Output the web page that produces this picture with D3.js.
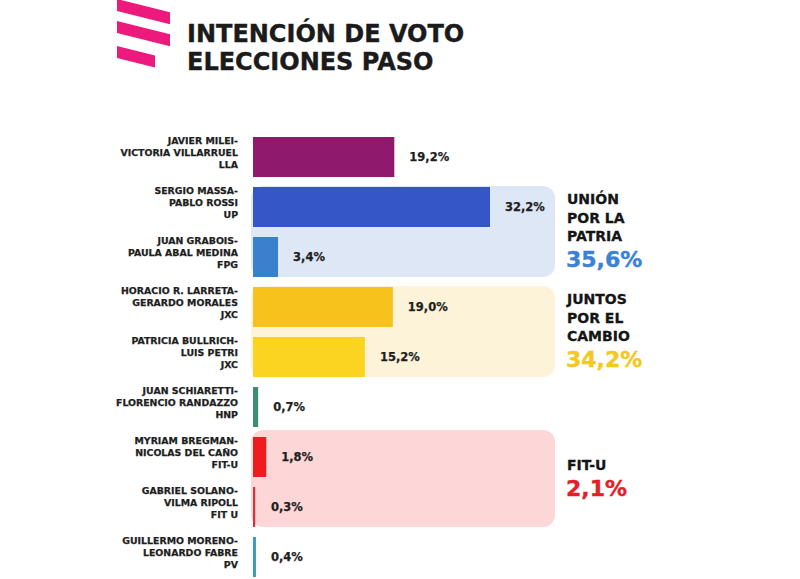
<!DOCTYPE html>
<html>
<head>
<meta charset="utf-8">
<script src="https://cdn.jsdelivr.net/npm/d3@7/dist/d3.min.js"></script>
<style>
  html, body { margin: 0; padding: 0; background: #ffffff; }
  svg { display: block; }
  text { font-family: "DejaVu Sans", sans-serif; font-weight: bold; }
</style>
</head>
<body>
<svg id="chart" width="800" height="579"></svg>
<script>
// ---- Data ----
const titleLines = ["INTENCIÓN DE VOTO", "ELECCIONES PASO"];
const candidateLines = [
  ["JAVIER MILEI-", "VICTORIA VILLARRUEL", "LLA"],
  ["SERGIO MASSA-", "PABLO ROSSI", "UP"],
  ["JUAN GRABOIS-", "PAULA ABAL MEDINA", "FPG"],
  ["HORACIO R. LARRETA-", "GERARDO MORALES", "JXC"],
  ["PATRICIA BULLRICH-", "LUIS PETRI", "JXC"],
  ["JUAN SCHIARETTI-", "FLORENCIO RANDAZZO", "HNP"],
  ["MYRIAM BREGMAN-", "NICOLAS DEL CAÑO", "FIT-U"],
  ["GABRIEL SOLANO-", "VILMA RIPOLL", "FIT U"],
  ["GUILLERMO MORENO-", "LEONARDO FABRE", "PV"]
];
const values = [19.2, 32.2, 3.4, 19.0, 15.2, 0.7, 1.8, 0.3, 0.4];
const valueLabels = ["19,2%", "32,2%", "3,4%", "19,0%", "15,2%", "0,7%", "1,8%", "0,3%", "0,4%"];
const barColors = ["#8f1a6d", "#3456c6", "#3a80cd", "#f6c21b", "#fbd422", "#3d8e6e", "#ee1b1f", "#d8313b", "#3a9bb6"];

const groupNames = [["UNIÓN", "POR LA", "PATRIA"], ["JUNTOS", "POR EL", "CAMBIO"], ["FIT-U"]];
const groupTotals = ["35,6%", "34,2%", "2,1%"];
const groupFirst = [1, 3, 6];
const groupLast = [2, 4, 7];
const groupBoxColors = ["#dee7f5", "#fdf3d9", "#fdd6d7"];
const groupTextColors = ["#3b82d4", "#f3c81f", "#e61e28"];

// ---- Chart ----
const svg = d3.select("#chart");

// Logo stripes
const logo = svg.append("g").attr("fill", "#ec1a7c");
const stripeDefs = [[0, 170], [22, 170], [47, 155]];
stripeDefs.forEach(([y0, xr]) => {
  const slope = 12.5 / 50;
  const xl = 117;
  const pts = [[xl, y0 - 1], [xr, y0 - 1 + slope * (xr - xl)], [xr, y0 + 11 + slope * (xr - xl)], [xl, y0 + 11]];
  logo.append("path").attr("d", d3.line()(pts) + "Z");
});

// Title
svg.selectAll("text.title").data(titleLines).join("text")
  .attr("class", "title")
  .attr("x", 187)
  .attr("y", (d, i) => 42 + i * 28)
  .attr("font-size", 24)
  .attr("fill", "#1b1b1b")
  .attr("stroke", "#1b1b1b")
  .attr("stroke-width", 0.4)
  .text(d => d);

const idx = d3.range(values.length);
const y = d3.scaleBand().domain(idx).range([132, 582]).paddingInner(0.2).paddingOuter(0.1);
const x = d3.scaleLinear().domain([0, 32.2]).range([253, 490]);

// Group boxes
const gBoxes = svg.append("g");
groupFirst.forEach((f, gi) => {
  const top = y(f);
  const bottom = y(groupLast[gi]) + y.bandwidth();
  const adj = gi === 2 ? -6 : 0;
  gBoxes.append("rect")
    .attr("x", x(0) - 2)
    .attr("y", top - 1 + adj)
    .attr("width", 555 - (x(0) - 2))
    .attr("height", bottom - top + 1 - adj)
    .attr("rx", 12)
    .attr("fill", groupBoxColors[gi]);
});

// Bars
svg.append("g").selectAll("rect").data(idx).join("rect")
  .attr("x", x(0))
  .attr("y", i => y(i))
  .attr("width", i => Math.max(2, x(values[i]) - x(0)))
  .attr("height", y.bandwidth())
  .attr("fill", i => barColors[i]);

// Value labels
svg.append("g").selectAll("text").data(idx).join("text")
  .attr("x", i => Math.max(x(values[i]), x(0) + 3) + 15)
  .attr("y", i => y(i) + y.bandwidth() / 2 + 4)
  .attr("font-size", 11.5)
  .attr("fill", "#1e1e1e")
  .attr("stroke", "#1e1e1e")
  .attr("stroke-width", 0.25)
  .text(i => valueLabels[i]);

// Candidate names
const nameG = svg.append("g").attr("text-anchor", "end");
idx.forEach(i => {
  const cy = y(i) + y.bandwidth() / 2;
  candidateLines[i].forEach((line, li) => {
    nameG.append("text")
      .attr("x", 238)
      .attr("y", cy - 13 + li * 12)
      .attr("font-size", 9.4)
      .attr("fill", "#1e1e1e")
      .attr("stroke", "#1e1e1e")
      .attr("stroke-width", 0.25)
      .text(line);
  });
});

// Group labels
groupFirst.forEach((f, gi) => {
  const names = groupNames[gi];
  let baseY;
  if (names.length === 3) baseY = y(f) + 17;
  else baseY = y(f) + 33;
  names.forEach((n, li) => {
    svg.append("text")
      .attr("x", 567)
      .attr("y", baseY + li * 18.5)
      .attr("font-size", 14)
      .attr("fill", "#151515")
      .attr("stroke", "#151515")
      .attr("stroke-width", 0.3)
      .text(n);
  });
  svg.append("text")
    .attr("x", 566)
    .attr("y", baseY + (names.length - 1) * 18.5 + 26)
    .attr("font-size", 22)
    .attr("fill", groupTextColors[gi])
    .attr("stroke", groupTextColors[gi])
    .attr("stroke-width", 0.4)
    .text(groupTotals[gi]);
});
</script>
</body>
</html>
